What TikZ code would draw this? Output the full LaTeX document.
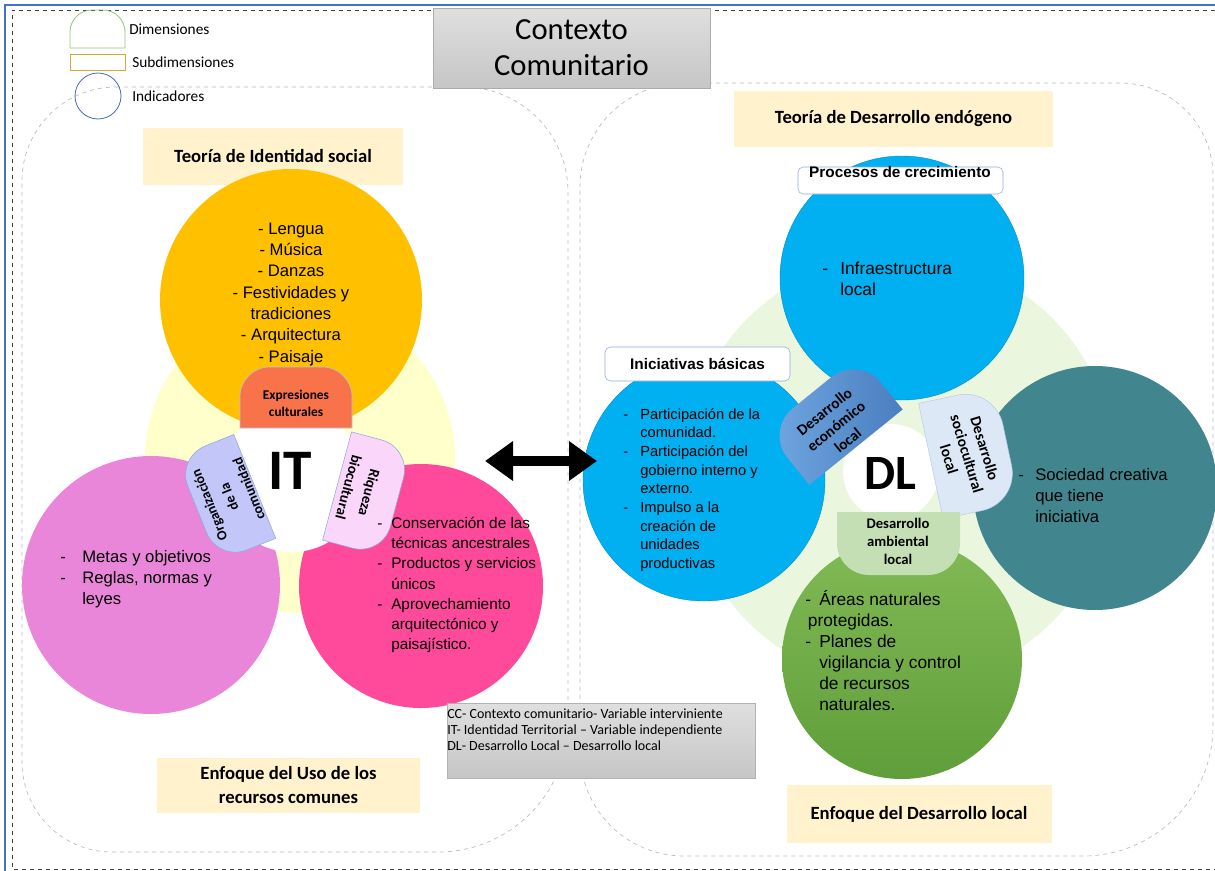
\documentclass[tikz,border=0pt]{standalone}
\usepackage{fontspec}
\setmainfont{Carlito}
\newfontfamily\arialfont{Liberation Sans}
\usetikzlibrary{arrows.meta}

\definecolor{titlefill}{HTML}{FFF2CC}
\definecolor{itbg}{HTML}{FFFFCC}
\definecolor{amber}{HTML}{FFC000}
\definecolor{orchid}{HTML}{EA86DA}
\definecolor{hotpink}{HTML}{FF4A9C}
\definecolor{coral}{HTML}{F8734A}
\definecolor{lavender}{HTML}{C2C6F8}
\definecolor{blush}{HTML}{FAD6FA}
\definecolor{dlbg}{HTML}{EAF7DE}
\definecolor{skyblue}{HTML}{00B0F0}
\definecolor{tealc}{HTML}{41868F}
\definecolor{leafdark}{HTML}{5F9E3A}
\definecolor{leaflight}{HTML}{82BA55}
\definecolor{econdark}{HTML}{4A7EC0}
\definecolor{econlight}{HTML}{6EA5DF}
\definecolor{iceblue}{HTML}{DDE8F6}
\definecolor{sage}{HTML}{C5DFB4}
\definecolor{frameblue}{HTML}{4472C4}
\definecolor{boxblue}{HTML}{8EA9DB}
\definecolor{legendgreen}{HTML}{93C47D}
\definecolor{legendgold}{HTML}{D6A933}
\definecolor{legendblue}{HTML}{4A6BAF}

%% dimension shape: centre, angle, width, height, corner radius, style
\newcommand{\dimshape}[6]{%
  \begin{scope}[shift={#1}, rotate=#2]
    \path[#6] (-#3/2,#4/2) -- (-#3/2,-#4/2+#5)
      .. controls (-#3/2,-#4/2+0.448*#5) and (-#3/2+0.448*#5,-#4/2) .. (-#3/2+#5,-#4/2)
      -- (#3/2-#5,-#4/2)
      .. controls (#3/2-0.448*#5,-#4/2) and (#3/2,-#4/2+0.448*#5) .. (#3/2,-#4/2+#5)
      -- (#3/2,#4/2) -- cycle;
  \end{scope}}

%% zone box: x1, y1, x2, y2, radii TL, TR, BR, BL, style
\newcommand{\zonebox}[9]{%
  \draw[#9] (#1+#5,#2) -- (#3-#6,#2)
    .. controls (#3-0.448*#6,#2) and (#3,#2+0.448*#6) .. (#3,#2+#6)
    -- (#3,#4-#7)
    .. controls (#3,#4-0.448*#7) and (#3-0.448*#7,#4) .. (#3-#7,#4)
    -- (#1+#8,#4)
    .. controls (#1+0.448*#8,#4) and (#1,#4-0.448*#8) .. (#1,#4-#8)
    -- (#1,#2+#5)
    .. controls (#1,#2+0.448*#5) and (#1+0.448*#5,#2) .. (#1+#5,#2) -- cycle;}

\begin{document}
\begin{tikzpicture}[x=0.75pt, y=-0.75pt,
  bubble/.style={circle, inner sep=0pt, minimum size=#1*1.5pt},
  boxsize/.style 2 args={minimum width=#1*0.75pt, minimum height=#2*0.75pt},
  titlebox/.style={fill=titlefill, inner sep=0pt, align=center, font=\bfseries\fontsize{14}{18}\selectfont},
  tagbox/.style={draw=boxblue, fill=white, rounded corners=4pt, inner sep=0pt, font=\arialfont\bfseries\fontsize{11.5}{13}\selectfont},
  itemtext/.style={anchor=west, inner sep=0pt},
  dimlabel/.style={align=center, inner sep=0pt},
  zone/.style={dashed, gray!55, line width=0.5pt},
  legendtext/.style={anchor=west, inner sep=0pt, font=\fontsize{11.5}{13}\selectfont}]
  \useasboundingbox (0,0) rectangle (1215,871);

  %% Page frame
  \draw[frameblue, line width=1.5pt] (5,871) -- (5,5) -- (1215,5);
  \draw[dashed, black!75, line width=0.6pt] (1215,10) -- (12,10) -- (12,869) -- (1215,869);

  %% Two zones
  \zonebox{22}{87}{568}{852}{94}{105}{130}{90}{zone}
  \zonebox{580}{83}{1213}{856}{104}{93}{130}{104}{zone}

  %% Legend
  \dimshape{(97.5,29)}{0}{55}{38}{22}{draw=legendgreen, line width=0.6pt}
  \node[boxsize={55}{16}, draw=legendgold, line width=0.6pt, inner sep=0pt] (subdim) at (97.5,62) {};
  \node[bubble=23, draw=legendblue, line width=0.6pt] (indic) at (98,96) {};
  \node[legendtext] (dimtxt) at (129,29) {Dimensiones};
  \node[legendtext] (subdimtxt) at (132,62) {Subdimensiones};
  \node[legendtext] (indictxt) at (132,96) {Indicadores};

  %% Contexto comunitario
  \node[boxsize={277}{80}, draw=gray!65, top color=gray!25, bottom color=gray!45, align=center,
    font=\fontsize{23}{27}\selectfont] (ctx) at (571.5,48) {Contexto\\Comunitario};

  %% Theory boxes
  \node[titlebox, boxsize={260}{57}] (identtheory) at (273,156.5) {Teoría de Identidad social};
  \node[titlebox, boxsize={319}{56}] (endotheory) at (893.5,119) {Teoría de Desarrollo endógeno};
  \node[titlebox, boxsize={263}{55}] (commons) at (288.5,785.5) {Enfoque del Uso de los\\recursos comunes};
  \node[titlebox, boxsize={265}{58}] (localapp) at (919,814) {Enfoque del Desarrollo local};

  %% IT cluster
  \node[bubble=155, fill=itbg] (itbg) at (300,458) {};
  \node[bubble=131, fill=amber] (cult) at (291,300) {};
  \node[bubble=129, fill=orchid] (org) at (151,585) {};
  \node[bubble=122, fill=hotpink] (bio) at (421,586) {};
  \node[bubble=72, fill=white] (itcore) at (292,480) {};

  \dimshape{(296,397.5)}{0}{112}{61}{30}{fill=coral, draw=boxblue!70, line width=0.4pt}
  \dimshape{(226,498)}{112}{112}{62}{31}{fill=lavender, draw=boxblue, line width=0.4pt}
  \dimshape{(367,494)}{-105}{112}{62}{31}{fill=blush, draw=boxblue, line width=0.4pt}

  \node[dimlabel, font=\bfseries\fontsize{10}{12.75}\selectfont] (culttag) at (296,403) {Expresiones\\culturales};
  \node[dimlabel, rotate=112, font=\bfseries\fontsize{10.5}{16}\selectfont] (orgtag) at (229,497) {Organización\\de la\\comunidad};
  \node[dimlabel, rotate=-105, font=\bfseries\fontsize{11}{16}\selectfont] (biotag) at (359,490) {Riqueza\\biocultural};
  \node[inner sep=0pt, font=\bfseries\fontsize{43}{43}\selectfont] (ittxt) at (290,471) {IT};

  \node[align=center, inner sep=0pt, font=\arialfont\fontsize{12.5}{16}\selectfont] (culttxt) at (291,294)
    {- Lengua\\- Música\\- Danzas\\- Festividades y\\tradiciones\\- Arquitectura\\- Paisaje};
  \node[itemtext, font=\arialfont\fontsize{12.5}{15.75}\selectfont] (orgtxt) at (60,579)
    {\begin{tabular}{@{}p{16.5pt}@{}l@{}}
      - & Metas y objetivos\\
      - & Reglas, normas y\\
        & leyes
    \end{tabular}};
  \node[itemtext, font=\arialfont\fontsize{11.5}{15.1}\selectfont] (biotxt) at (377,585)
    {\begin{tabular}{@{}p{10.5pt}@{}l@{}}
      - & Conservación de las\\
        & técnicas ancestrales\\
      - & Productos y servicios\\
        & únicos\\
      - & Aprovechamiento\\
        & arquitectónico y\\
        & paisajístico.
    \end{tabular}};

  %% DL cluster
  \node[bubble=215, fill=dlbg] (dlbg) at (900,470) {};
  \node[bubble=122, fill=skyblue, draw=skyblue!80!black, line width=0.3pt] (grow) at (902,278) {};
  \node[bubble=121, fill=skyblue, draw=skyblue!80!black, line width=0.3pt] (basic) at (704,480) {};
  \node[bubble=122, fill=tealc] (socio) at (1095,488) {};
  \node[bubble=120, top color=leaflight, bottom color=leafdark] (envir) at (902,659) {};
  \node[bubble=48, fill=white] (dlcore) at (891,472) {};

  \dimshape{(834,420)}{39}{120}{70}{35}{left color=econlight, right color=econdark}
  \dimshape{(969,453)}{-78}{118}{78}{38}{fill=iceblue, draw=boxblue!60, line width=0.4pt}
  \dimshape{(898.5,543.5)}{180}{123}{63}{32}{fill=sage}

  \node[dimlabel, rotate=39, font=\bfseries\fontsize{11.5}{14}\selectfont] (econtag) at (836,426) {Desarrollo\\económico\\local};
  \node[dimlabel, rotate=-73, font=\bfseries\fontsize{11.5}{14}\selectfont] (sociotag) at (967,454) {Desarrollo\\sociocultural\\local};
  \node[dimlabel, font=\bfseries\fontsize{11}{13.5}\selectfont] (envirtag) at (898,541) {Desarrollo\\ambiental\\local};
  \node[inner sep=0pt, font=\bfseries\fontsize{37}{37}\selectfont] (dltxt) at (890,473) {DL};

  %% Sub-dimension tags
  \node[tagbox, boxsize={205}{27}] (growtag) at (900.5,180.5) {};
  \node[inner sep=0pt, font=\arialfont\bfseries\fontsize{11.5}{13}\selectfont] (growtagtxt) at (900,172) {Procesos de crecimiento};
  \node[tagbox, boxsize={185}{34}] (basictag) at (697.5,364) {Iniciativas básicas};

  \node[itemtext, font=\arialfont\fontsize{13}{15.75}\selectfont] (growtxt) at (822,281)
    {\begin{tabular}{@{}p{13.5pt}@{}l@{}}
      - & Infraestructura\\
        & local
    \end{tabular}};
  \node[itemtext, font=\arialfont\fontsize{11}{14}\selectfont] (basictxt) at (623,490)
    {\begin{tabular}{@{}p{12.75pt}@{}l@{}}
      - & Participación de la\\
        & comunidad.\\
      - & Participación del\\
        & gobierno interno y\\
        & externo.\\
      - & Impulso a la\\
        & creación de\\
        & unidades\\
        & productivas
    \end{tabular}};
  \node[itemtext, font=\arialfont\fontsize{12.5}{15.75}\selectfont] (sociotxt) at (1018,497)
    {\begin{tabular}{@{}p{12.75pt}@{}l@{}}
      - & Sociedad creativa\\
        & que tiene\\
        & iniciativa
    \end{tabular}};
  \node[itemtext, font=\arialfont\fontsize{13}{15.75}\selectfont] (envirtxt) at (805,654)
    {\begin{tabular}{@{}p{10.5pt}@{}l@{}}
      - & Áreas naturales\\
      \multicolumn{2}{@{}l@{}}{\hspace{2pt}protegidas.}\\
      - & Planes de\\
        & vigilancia y control\\
        & de recursos\\
        & naturales.
    \end{tabular}};

  %% Link between IT and DL
  \coordinate (itend) at (485,461);
  \coordinate (dlend) at (597,461);
  \draw[{Triangle[length=21pt,width=28.5pt]}-{Triangle[length=21pt,width=28.5pt]}, line width=7.5pt] (itend) -- (dlend);

  %% Abbreviations
  \node[boxsize={308}{75}, draw=gray!60, top color=gray!25, bottom color=gray!45] (notes) at (601,740.5) {};
  \node[anchor=west, align=left, inner sep=0pt, font=\fontsize{10.5}{11.9}\selectfont] (notestxt) at (447,730)
    {CC- Contexto comunitario- Variable interviniente\\
     IT- Identidad Territorial – Variable independiente\\
     DL- Desarrollo Local – Desarrollo local};
\end{tikzpicture}
\end{document}
